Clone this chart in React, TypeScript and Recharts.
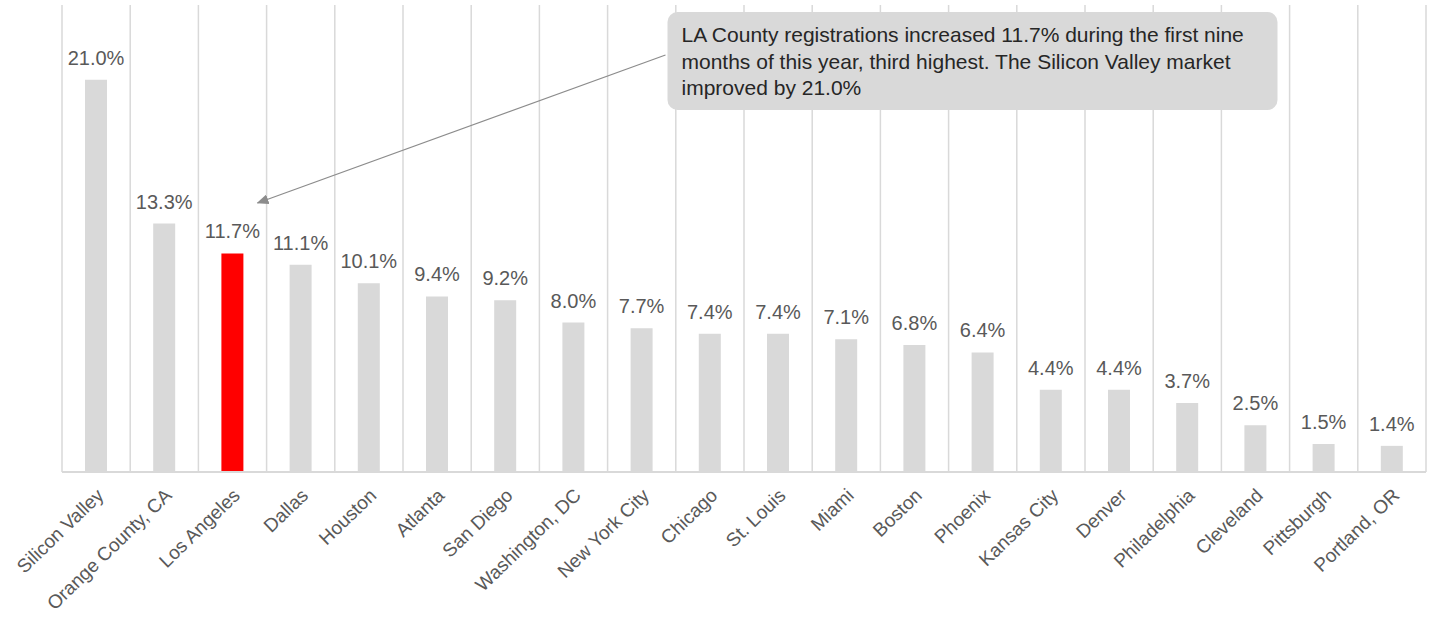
import React from "react";
import { Bar, BarChart, CartesianGrid, Cell, LabelList, ReferenceDot, XAxis, YAxis } from "recharts";

const markets = [
    "Silicon Valley", "Orange County, CA", "Los Angeles", "Dallas", "Houston",
    "Atlanta", "San Diego", "Washington, DC", "New York City", "Chicago",
    "St. Louis", "Miami", "Boston", "Phoenix", "Kansas City",
    "Denver", "Philadelphia", "Cleveland", "Pittsburgh", "Portland, OR",
];
const growth = [21.0, 13.3, 11.7, 11.1, 10.1, 9.4, 9.2, 8.0, 7.7, 7.4, 7.4, 7.1, 6.8, 6.4, 4.4, 4.4, 3.7, 2.5, 1.5, 1.4];
const highlight = "Los Angeles";
const noteLines = [
    "LA County registrations increased 11.7% during the first nine",
    "months of this year, third highest. The Silicon Valley market",
    "improved by 21.0%",
];
// where the arrow points (value axis)
const arrowTarget = { market: "Los Angeles", value: 14.4 };

const data = markets.map((m, i) => ({ market: m, value: growth[i] }));

const FONT = "'Liberation Sans', Arial, sans-serif";
const GRID = "#d9d9d9";

const AxisTick = (props: any) => {
    const { x, y, payload } = props;
    return (
        <g transform={`translate(${x + 4},${y + 12})`}>
            <text textAnchor="end" transform="rotate(-44)" fill="#595959" fontSize={19} fontFamily={FONT} dy="0.35em">
                {payload.value}
            </text>
        </g>
    );
};

const Note = (props: any) => {
    const { cx, cy } = props;
    const tipX = cx + 25;
    const tipY = cy;
    const boxX = tipX + 410;
    const boxY = tipY - 191;
    return (
        <g>
            <defs>
                <marker id="arrowHead" markerWidth="12" markerHeight="10" refX="11" refY="5" orient="auto" markerUnits="userSpaceOnUse">
                    <path d="M0,0 L12,5 L0,10 z" fill="#8c8c8c" />
                </marker>
            </defs>
            <line x1={boxX - 2} y1={boxY + 43} x2={tipX} y2={tipY} stroke="#8c8c8c" strokeWidth={1.2} markerEnd="url(#arrowHead)" />
            <rect x={boxX} y={boxY} width={610} height={98} rx={10} ry={10} fill="#d9d9d9" />
            <text x={boxX + 14} y={boxY + 30} fill="#262626" fontSize={21} fontFamily={FONT}>
                {noteLines.map((l, i) => (
                    <tspan key={i} x={boxX + 14} dy={i === 0 ? 0 : 26.5}>{l}</tspan>
                ))}
            </text>
        </g>
    );
};

const App = () => {
    return (
        <div style={{ position: "absolute", left: 0, top: 0 }}>
            <BarChart width={1432} height={617} data={data} margin={{ top: 5, right: 6, left: 62, bottom: 0 }}>
                <CartesianGrid
                    horizontal={false}
                    stroke={GRID}
                    strokeWidth={1.5}
                    verticalCoordinatesGenerator={({ offset, width }: any) => {
                        const w = offset.width ?? width - offset.left - offset.right;
                        const step = w / markets.length;
                        return markets.map((_, i) => offset.left + i * step).concat(offset.left + w);
                    }}
                />
                <XAxis
                    dataKey="market"
                    interval={0}
                    height={145}
                    tickLine={false}
                    axisLine={{ stroke: GRID, strokeWidth: 2 }}
                    tick={<AxisTick />}
                />
                <YAxis hide domain={[0, 25]} />
                <Bar dataKey="value" barSize={22} isAnimationActive={false}>
                    {data.map((d) => (
                        <Cell key={d.market} fill={d.market === highlight ? "#ff0000" : "#d9d9d9"} />
                    ))}
                    <LabelList
                        dataKey="value"
                        position="top"
                        offset={15}
                        fill="#595959"
                        fontSize={20}
                        fontFamily={FONT}
                        formatter={(v: any) => Number(v).toFixed(1) + "%"}
                    />
                </Bar>
                <ReferenceDot x={arrowTarget.market} y={arrowTarget.value} r={0} shape={<Note />} ifOverflow="visible" />
            </BarChart>
        </div>
    );
};

export default App;
